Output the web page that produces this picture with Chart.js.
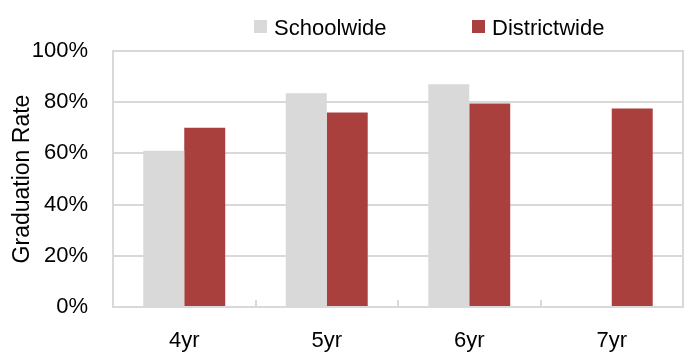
<!DOCTYPE html>
<html>
<head>
<meta charset="utf-8">
<script src="https://cdn.jsdelivr.net/npm/chart.js@4"></script>
<style>
  body { margin: 0; background: #fff; }
  #wrap { width: 692px; height: 354px; position: relative; }
</style>
</head>
<body>
<div id="wrap"><canvas id="grafica"></canvas></div>
<script>
const categories = ["4yr", "5yr", "6yr", "7yr"];
const seriesNames = ["Schoolwide", "Districtwide"];
const schoolwide = [61, 83.5, 87, null];
const districtwide = [70, 76, 79.5, 77.5];
const yTicks = [0, 20, 40, 60, 80, 100];

const FONT = "'Liberation Sans', Arial, sans-serif";
const GRID = "#d9d9d9";
const colors = ["#d9d9d9", "#a9403e"];

Chart.defaults.font.family = FONT;
Chart.defaults.color = "#000";

// legend drawn by hand so the item spacing matches the original
const topLegend = {
  id: "topLegend",
  afterDraw(chart) {
    const ctx = chart.ctx;
    const xs = [254, 472];
    ctx.save();
    ctx.font = "22px " + FONT;
    ctx.textBaseline = "alphabetic";
    chart.data.datasets.forEach((ds, i) => {
      ctx.fillStyle = ds.backgroundColor;
      ctx.fillRect(xs[i], 20, 13, 13);
      ctx.fillStyle = "#000";
      ctx.fillText(ds.label, xs[i] + 20, 35);
    });
    ctx.restore();
  }
};

const ctx = document.getElementById("grafica");
new Chart(ctx, {
  type: "bar",
  data: {
    labels: categories,
    datasets: [
      { label: seriesNames[0], data: schoolwide, backgroundColor: colors[0] },
      { label: seriesNames[1], data: districtwide, backgroundColor: colors[1] }
    ]
  },
  options: {
    responsive: true,
    maintainAspectRatio: false,
    animation: false,
    categoryPercentage: 0.575,
    barPercentage: 1,
    layout: { padding: { top: 51, right: 9, left: 0, bottom: 0 } },
    plugins: {
      legend: { display: false },
      tooltip: { enabled: false }
    },
    scales: {
      x: {
        grid: {
          offset: true,
          drawOnChartArea: false,
          drawTicks: true,
          tickLength: -7,
          color: GRID,
          lineWidth: 2
        },
        border: { color: GRID, width: 2 },
        ticks: { font: { size: 22 }, padding: 28 },
        afterFit: (s) => { s.height = 47; }
      },
      y: {
        min: 0,
        max: 100,
        afterBuildTicks: (s) => { s.ticks = yTicks.map(v => ({ value: v })); },
        grid: { color: GRID, lineWidth: 2, drawTicks: false },
        border: { color: GRID, width: 2 },
        ticks: {
          font: { size: 22 },
          padding: 25,
          callback: (v) => v + "%"
        },
        title: {
          display: true,
          text: "Graduation Rate",
          font: { size: 23 },
          padding: { top: 9, bottom: 0 }
        },
        afterFit: (s) => { s.width = 113; }
      },
      y2: {
        position: "right",
        min: 0,
        max: 100,
        ticks: { display: false },
        grid: { drawOnChartArea: false, drawTicks: false },
        border: { color: GRID, width: 2 },
        afterFit: (s) => { s.width = 0; }
      }
    }
  },
  plugins: [topLegend]
});
</script>
</body>
</html>
